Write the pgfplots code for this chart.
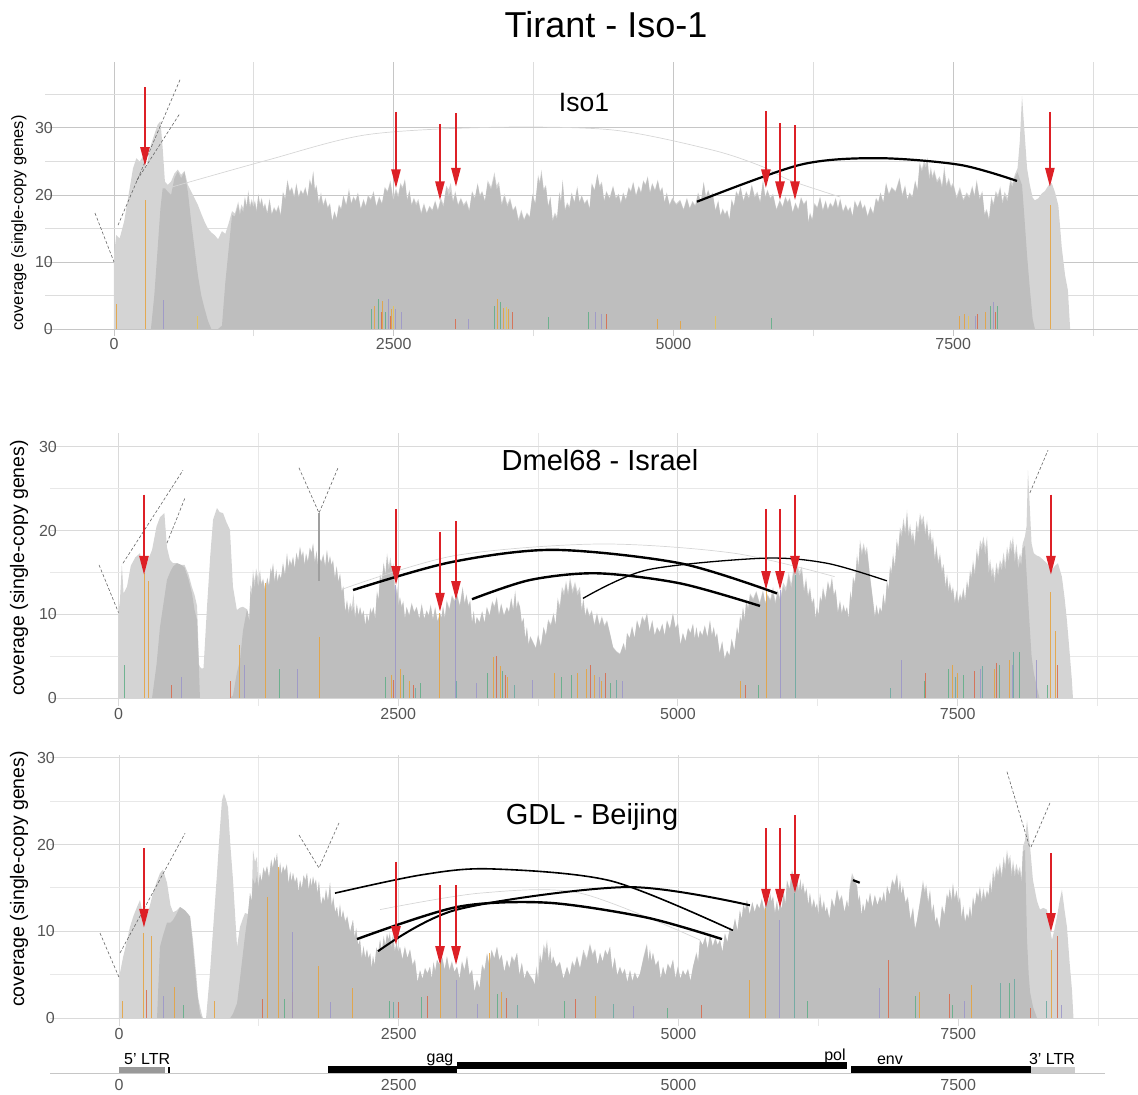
\documentclass[border=0pt]{standalone}
\usepackage{pgfplots}
\pgfplotsset{compat=1.18}
\usepackage{pgfplotstable}
\usepackage{fontspec}
\setmainfont{Liberation Sans}
\usetikzlibrary{arrows.meta}

\definecolor{ltg}{HTML}{D4D4D4}
\definecolor{dkg}{HTML}{BEBEBE}
\definecolor{arr}{HTML}{DD2026}
\definecolor{labc}{HTML}{555555}
\definecolor{gmaj}{HTML}{C6C6C6}
\definecolor{gmin}{HTML}{DDDDDD}
\definecolor{gmajB}{HTML}{DADADA}
\definecolor{gminB}{HTML}{E8E8E8}
\definecolor{snpO}{HTML}{E6A23C}
\definecolor{snpG}{HTML}{5FAE86}
\definecolor{snpP}{HTML}{9B95C9}
\definecolor{snpR}{HTML}{D9694A}
\definecolor{snpT}{HTML}{6AA9A0}
\definecolor{snpY}{HTML}{E8C454}
\definecolor{faint}{HTML}{D6D6D6}
\definecolor{splitc}{HTML}{666666}

\pgfplotstableread{
x lt dk
-1 0 0
0 11 0
20 14 0
50 13.5 0
90 16 0
130 20 0
170 24 0
200 25.5 0
230 25 0
260 25.8 0
285 24 0
300 25 0
330 27.5 0
360 29 5
390 30.5 12
415 31 18
435 27 21
455 22 21
480 21.5 20.5
510 22 20
540 23.2 22.5
570 23.8 23.5
600 23 22.5
630 23.6 23.4
660 21.5 20.5
690 20.5 16
720 19.5 12
750 18.5 8
780 17.2 5
810 16 3
840 15 1.2
870 14.4 0
900 14 0
930 13.4 0
965 14.6 0.5
995 14.2 7
1025 15.8 12
1055 17.6 17
1080 17.2 16.8
1110 19 18.5
1125 17.6 17
1140 18.6 18
1155 18.0 17.4
1170 19.8 19.5
1185 18.4 18.1
1200 20.7 20.3
1215 18.4 18.0
1230 19.4 19
1245 18.6 18.2
1260 19.2 18.8
1275 17.8 17.4
1290 20.2 20
1305 18.6 18.4
1320 19.6 19.4
1335 18.2 17.9
1350 18.8 18.5
1370 17.4 17.1
1390 19.5 19.2
1410 17.2 17
1430 18.2 18
1450 17.6 17.4
1470 18.5 18.2
1490 17.1 16.8
1510 20.5 20.3
1530 19.5 19.3
1550 22.3 22
1570 20.6 20.4
1590 21.2 21
1610 19.8 19.6
1630 21.8 21.5
1650 19.8 19.6
1670 20.8 20.6
1690 20.2 20
1710 21.2 21
1730 19.8 19.6
1750 22.4 22.2
1765 21.4 21.2
1780 23.6 23.4
1795 20.9 20.6
1810 21.5 21.2
1830 19 18.6
1850 20.4 20
1870 18.6 18.3
1890 19.6 19.3
1910 18.2 18
1930 18.8 18.6
1950 16.2 16
1970 17.6 17.4
1990 16.6 16.4
2010 18.6 18.4
2030 18 17.8
2050 20 19.8
2075 18.6 18.4
2100 21 20.5
2120 18.8 18.6
2140 19.8 19.6
2160 19.2 19
2180 20.4 20.2
2205 18 17.8
2230 19.4 19.2
2250 18.4 18.2
2270 20 19.8
2295 19.4 19.2
2320 20.6 20.3
2345 18.4 18.2
2370 19.8 19.6
2395 18.8 18.6
2420 21.2 21
2445 20.6 20.4
2470 22.2 21.8
2495 19.6 19.2
2520 21 20.6
2540 20 19.6
2560 21.8 21.5
2580 21.2 20.9
2600 22.4 22.2
2620 19.4 19.1
2640 20.8 20.5
2660 18.6 18.4
2680 19.6 19.4
2700 18.8 18.4
2720 19.4 19
2745 17.4 17.1
2770 18.8 18.5
2795 17.4 17.2
2820 18.4 18.2
2845 17.8 17.6
2870 19.2 19
2895 17.8 17.6
2920 19.6 19.2
2945 18.6 18.2
2970 21.4 21.2
2990 20.8 19.9
3010 21.8 20.5
3030 19.2 18.9
3050 20.6 20.3
3075 18.6 18.4
3100 19.6 19.4
3125 18.6 18.3
3150 19.2 18.9
3175 17.8 17.5
3200 20.6 20.4
3225 19.6 19.4
3250 21.8 21.6
3270 20 19.8
3290 20.6 20.4
3315 19.2 19
3340 22.2 21.8
3370 21.2 20.8
3400 23.4 22.8
3420 21.4 20.8
3440 22 21.4
3465 18.8 18.4
3490 20.2 19.8
3515 18.6 18.2
3540 19.6 19.2
3565 17.8 17.6
3590 18.4 18.2
3615 16.4 16
3640 17.8 17.4
3665 16.4 16.2
3690 17.4 17.2
3715 16.8 16.6
3740 20.2 20
3765 18.8 18.6
3790 23 22.6
3805 22 21.6
3820 23.8 23.2
3840 20.9 20.6
3860 21.5 21.2
3880 18.4 18.2
3900 19.8 19.6
3920 16.4 16
3940 17.4 17
3960 16.8 16.4
3980 20.5 20.2
3995 19.1 18.8
4010 22.3 22
4030 17.9 17.6
4050 18.9 18.6
4070 18.3 18
4090 20.4 20.2
4115 19 18.8
4140 21.3 21
4160 19 18.8
4180 20 19.8
4205 18.8 18.6
4230 19.4 19.2
4250 18 17.8
4270 21.8 21.6
4295 20.8 20.6
4320 23.2 23
4340 21.4 21.1
4360 22 21.7
4380 19.2 19
4400 20.6 20.4
4430 19.6 19.4
4460 21.4 21.2
4485 19.6 19.4
4510 20.2 20
4530 18.8 18.6
4550 20.4 20.2
4575 19.4 19.2
4600 21.2 21
4620 20.6 20.4
4640 22 21.8
4665 20 19.8
4690 21.4 21.2
4710 20.4 20.2
4730 22.2 22
4750 21.6 21.4
4770 22.8 22.6
4790 20.4 20.2
4810 21.8 21.6
4835 20.8 20.6
4860 22.3 22.1
4880 20.6 20.4
4900 21.2 21
4920 19 18.8
4940 20.4 20.2
4965 18.6 18.4
4990 19.6 19.4
5025 18.7 18.5
5060 19.3 19.1
5090 17.9 17.7
5120 19.6 19.4
5145 18.1 17.9
5170 19.1 18.9
5195 18.5 18.3
5220 20.4 20.2
5245 19 18.8
5270 22 21.8
5290 19.8 19.6
5310 20.8 20.6
5330 19.8 19.5
5350 20.4 20.1
5375 17.8 17.6
5400 19.2 19
5420 17 16.8
5440 18 17.8
5460 17.2 17
5480 17.8 17.6
5500 16.4 16.2
5520 19.4 19.2
5540 18.4 18.2
5560 20.6 20.4
5580 20 19.8
5600 21.3 21.1
5625 19.2 19
5650 20.6 20.4
5675 19.6 19.4
5700 21.6 21.4
5725 19.9 19.6
5750 20.5 20.2
5775 19.1 18.8
5800 22.3 22
5820 19.8 19.6
5840 20.8 20.6
5865 19.6 19.4
5890 20.2 20
5920 17.9 17.7
5950 19.3 19.1
5975 18.3 18.1
6000 19.8 19.6
6020 19 18.8
6040 19.6 19.4
6065 17.5 17.3
6090 18.9 18.7
6115 17.9 17.7
6140 19.7 19.5
6165 18.7 18.5
6190 19.3 19.1
6205 16 15.8
6220 17.4 17.2
6240 16.4 16.2
6260 18.8 18.6
6285 18.2 18
6310 19.8 19.6
6335 17.8 17.6
6360 19.2 19
6380 17.9 17.7
6400 18.9 18.7
6425 18.3 18.1
6450 19.6 19.4
6470 18.1 17.9
6490 19.5 19.3
6515 17.6 17.4
6540 18.6 18.4
6560 17.7 17.5
6580 18.3 18.1
6600 16.9 16.7
6620 19.2 19
6645 18.2 18
6670 19.3 19.1
6690 18 17.8
6710 18.6 18.4
6735 16.9 16.7
6760 18.3 18.1
6785 17.3 17.1
6810 19.6 19.4
6830 19 18.8
6850 20.4 20.2
6875 19 18.8
6900 21.9 21.6
6925 20.2 20
6950 21.2 21
6985 20.6 20.4
7020 22.6 22.3
7045 20.1 19.8
7070 21.5 21.2
7090 19.4 19.2
7110 20.4 20.2
7135 19.8 19.6
7160 22.2 22
7180 20.8 20.6
7200 24.9 24.5
7220 23.9 23.5
7240 25.2 24.6
7255 24.6 24
7270 25.6 25
7285 22.8 22.2
7300 24.2 23.6
7315 22.8 22.4
7330 23.8 23.4
7355 22.2 21.8
7380 22.8 22.4
7400 21.4 21
7420 24.3 23.6
7440 21.6 21.2
7460 22.6 22.2
7480 21.3 21
7500 21.9 21.6
7530 19.8 19.4
7560 21.2 20.8
7590 19.4 19.1
7620 20.4 20.1
7645 19.8 19.5
7670 21.4 21.1
7690 20 19.7
7710 22.3 21.9
7735 19.6 19.3
7760 20.6 20.3
7780 17.3 17
7800 17.9 17.6
7820 16.5 16.2
7840 19.8 19.4
7860 18.8 18.4
7880 20.6 20.2
7900 20 19.6
7920 21.3 20.9
7940 19.1 18.6
7960 20.5 20
7985 19.5 19
8010 22.3 21.8
8030 21.7 21.2
8050 23 22.6
8075 24 23.4
8095 28 22.4
8115 34.8 21.5
8135 30 17
8160 24 11
8185 21.5 6
8210 19.6 1.5
8230 19.2 0
8260 19.5 0
8290 20.2 0
8320 20.6 0
8350 21.4 0
8380 21.8 0
8410 20.4 0
8440 18.4 0
8470 12.2 0
8500 8 0
8525 5.8 0
8545 0 0
}\tA

\pgfplotstableread{
x lt dk
-1 0 0
0 10.2 0
13 11.7 0
30 16 0
45 12.5 0
76 13.3 0
110 15.8 0
150 16.8 0
192 17.3 0
228 14.9 0
264 16.5 0
300 17.7 0
340 20.5 4
371 21.6 8.5
410 22.1 12
433 18 14.1
460 16.5 15
487 16.1 15.7
523 16.1 16.1
560 15.9 15.9
590 15.9 15.6
625 14.8 14.2
657 13.2 12.5
680 12.3 10.5
702 11 9.3
720 4 3
728 3.7 0
746 3.5 0
760 3.6 0
791 10.9 0
820 17 0
845 21.3 0
880 22.7 0
905 22.2 0
934 22.1 0
965 21 0
996 20.1 0
1023 13.3 0.3
1058 10.5 3
1086 10.8 4.5
1112 10.9 8
1148 10.6 10.6
1157 10.2 10.2
1168 9.2 9.2
1180 13.5 12.8
1191 12.9 12.2
1202 15.3 14.5
1216 13.9 13.1
1230 15.5 14.8
1248 14.3 13.3
1265 15.3 14.3
1278 13.7 13.5
1292 14.3 14.1
1311 12.9 12.7
1330 14.4 14.3
1345 13.4 13.3
1360 15.6 15.4
1370 15 14.8
1381 16.1 16
1395 14 13.8
1410 15.4 15.2
1422 13.9 13.8
1435 14.9 14.8
1452 14.3 14.2
1470 16.2 16
1488 14.8 14.6
1506 17.3 17.2
1518 15.6 15.4
1530 16.6 16.4
1545 16 15.8
1560 16.9 16.8
1575 15.5 15.4
1590 17.4 17.3
1606 16.4 16.3
1622 18.1 18
1636 17 16.8
1650 17.6 17.4
1663 15.9 15.8
1676 17.3 17.2
1693 16.3 16.2
1710 18 17.9
1725 17.4 17.3
1739 18.5 18.4
1755 16.2 16.1
1770 17.6 17.5
1782 15.9 15.8
1793 16.9 16.8
1812 16.3 16.2
1830 17.2 17
1847 15.8 15.6
1863 17.7 17.6
1877 16 15.9
1890 17 16.9
1904 15.9 15.8
1917 16.5 16.4
1934 14.4 14.2
1950 15.8 15.6
1965 13.9 13.8
1980 14.9 14.8
1995 12.8 12.6
2010 13.4 13.2
2026 10.3 10.2
2042 11.7 11.6
2056 10.4 10
2070 11.4 11
2085 10.8 10.3
2100 12.5 10.9
2115 9.9 9.5
2130 11.3 11.1
2145 9.9 9.8
2159 10.9 10.8
2175 9.9 9.8
2190 10.5 10.4
2205 8.7 8.6
2220 10.1 10
2235 9.1 9
2250 10.8 10.6
2264 10.2 10
2278 10.9 10.8
2294 9.5 9.4
2310 12.8 12.6
2324 11.8 11.6
2337 14.8 14.5
2354 14.2 13.9
2370 16.2 16
2385 14.8 14.6
2400 17.3 16.9
2415 15.8 15.2
2430 16.8 16.2
2444 15.5 15
2457 16.1 15.6
2474 12.1 11.8
2490 13.5 13.2
2503 11.1 11
2515 12.1 12
2530 11 10.8
2545 11.6 11.4
2560 9.5 9.4
2575 10.9 10.8
2598 9.9 9.8
2620 11.4 11.2
2643 10.3 10.2
2665 10.9 10.8
2688 9.5 9.4
2710 11.3 11.1
2732 9.5 9.4
2754 10.5 10.4
2772 9.9 9.8
2790 11.2 11
2810 9.5 9.3
2830 10.9 10.7
2852 9.2 9.1
2873 10.2 10.1
2887 9.6 9.5
2900 11 10.9
2917 9.6 9.5
2933 11.7 11.5
2957 10.7 10.5
2980 12.3 12.1
3003 11.7 11.5
3025 12.5 12.3
3050 11.1 10.9
3076 13.3 13.1
3093 11.4 11.2
3110 12.4 12.2
3127 11.1 10.9
3143 11.7 11.5
3159 9 8.9
3175 10.4 10.3
3188 8.7 8.6
3202 9.7 9.6
3226 9.1 9
3250 10.4 10.3
3271 9 8.9
3292 10.9 10.8
3316 9.9 9.8
3340 11.6 11.4
3360 11 10.8
3381 12.1 11.9
3400 9.9 9.8
3420 11.3 11.2
3445 9.9 9.8
3471 10.9 10.8
3490 10.3 10.2
3510 12 11.8
3527 10.6 10.4
3545 12.9 12.6
3558 10.7 10.5
3570 11.7 11.5
3588 10.9 10.8
3604 9 8.9
3620 9.6 9.5
3635 7.1 7
3650 8.5 8.4
3665 6.4 6.3
3680 7.4 7.3
3709 6.6 6.5
3730 6 5.9
3750 7.6 7.5
3775 6.2 6.1
3799 8.5 8.4
3820 7.5 7.4
3840 9.4 9.2
3864 8.8 8.6
3888 10.2 10
3906 8.8 8.6
3925 12 11.6
3944 11 10.6
3963 13.3 12.8
3982 12.7 12.2
4000 14 13.6
4018 12.6 12.2
4035 14.5 14
4058 12.9 12.4
4080 13.9 13.4
4102 12.7 12.2
4124 13.3 12.8
4140 10.6 10.3
4155 12 11.7
4171 9.9 9.7
4187 10.9 10.7
4208 9.9 9.7
4230 10.5 10.3
4253 8.8 8.6
4276 10.2 10
4298 8.8 8.6
4320 9.8 9.6
4343 8.7 8.5
4366 9.3 9.1
4395 7.6 7.5
4420 6.1 6
4450 5.6 5.5
4482 5.3 5.2
4515 6.6 6.5
4530 5.6 5.5
4545 7.8 7.7
4568 7.2 7.1
4590 8.6 8.5
4612 7.2 7.1
4634 9.3 9.2
4657 8.3 8.2
4680 9.8 9.6
4702 9.2 9
4723 10.2 10
4746 7.9 7.8
4770 9.3 9.2
4792 7.5 7.4
4813 8.5 8.4
4837 7.9 7.8
4860 8.9 8.8
4881 7.5 7.4
4902 9.3 9.2
4928 8.3 8.2
4955 10.2 10
4978 8.4 8.3
5000 9 8.9
5022 6.4 6.3
5044 7.8 7.7
5067 6.8 6.7
5090 8.4 8.3
5112 7.8 7.7
5134 8.9 8.8
5150 7.1 7
5165 8.5 8.4
5181 7.1 7
5197 8.1 8
5218 7.5 7.4
5240 8.7 8.6
5263 7.3 7.2
5286 9.3 9.2
5303 7.5 7.4
5320 8.5 8.4
5335 7.2 7.1
5349 7.8 7.7
5372 5.4 5.3
5395 6.8 6.7
5417 4.7 4.6
5439 5.7 5.6
5460 5.1 5
5480 7.1 7
5504 5.7 5.6
5528 8.5 8.4
5541 7.5 7.4
5555 9.8 9.6
5568 9.2 9
5581 10.9 10.7
5596 9.5 9.3
5610 11.8 11.5
5627 10.8 10.5
5644 12.5 12.3
5672 11.9 11.7
5700 12.8 12.6
5730 11.4 11.2
5760 12.9 12.7
5780 11.4 11.2
5800 12.4 12.2
5825 11.8 11.6
5850 13.3 12.6
5870 11.5 11.2
5890 12.9 12.6
5915 11.9 11.6
5940 13.8 13.3
5965 13.2 12.7
5990 15 14.5
6012 13.6 13.1
6035 15.8 15.2
6049 14.8 14.2
6063 16.1 15.6
6085 15.1 14.6
6108 15.7 15.2
6126 13 12.6
6145 14.4 14
6162 12.3 12
6180 13.3 13
6197 11.4 11.2
6215 12 11.8
6228 9.5 9.4
6242 10.9 10.8
6256 9.9 9.8
6270 12.2 12
6283 11.6 11.4
6296 13.3 13
6318 11.9 11.6
6340 14 13.8
6358 13 12.8
6376 14.5 14.2
6393 12.4 12.2
6410 13 12.8
6429 10.3 10.1
6448 11.7 11.5
6464 10.2 10
6480 11.2 11
6495 10.3 10.2
6510 10.9 10.8
6525 9.5 9.4
6540 12.8 12.5
6552 11.8 11.5
6564 14.5 14.2
6582 13.9 13.6
6600 17.2 16.8
6613 15.8 15.4
6627 18.9 18.4
6643 17.5 17
6660 18.5 18
6675 17.5 17
6689 18.1 17.6
6715 14.8 14.5
6743 11.7 11.5
6760 9.8 9.6
6775 11.2 11
6790 9.9 9.8
6805 10.9 10.8
6820 10.3 10.2
6835 12.5 12.3
6851 11.1 10.9
6868 14.1 13.8
6882 13.1 12.8
6895 15.8 15.4
6908 15.2 14.8
6922 17.3 16.9
6938 15.9 15.5
6955 19 18.5
6970 18 17.5
6984 20.4 19.8
7000 19.8 19.2
7015 21.5 20.9
7031 20.1 19.5
7047 22.5 22
7061 19.8 19.2
7075 20.8 20.2
7088 19.3 18.8
7101 19.9 19.4
7116 18.5 18
7130 21.2 20.6
7146 20.2 19.6
7163 22.1 21.5
7179 21.2 20.6
7195 21.8 21.2
7210 19.9 19.4
7226 21.3 20.8
7240 19.2 18.7
7255 20.2 19.7
7268 18.7 18.2
7280 19.3 18.8
7295 16.8 16.4
7310 18.2 17.8
7326 16.3 15.9
7342 17.3 16.9
7358 15.4 15
7375 16 15.6
7390 13.5 13.1
7405 14.9 14.5
7418 13 12.6
7430 14 13.6
7444 12.7 12.4
7458 13.3 13
7474 11.5 11.2
7490 12.9 12.6
7505 11.5 11.2
7521 12.5 12.2
7535 11.9 11.6
7550 13.2 12.9
7566 11.8 11.5
7583 14.1 13.8
7596 13.1 12.8
7610 15.3 14.9
7623 14.7 14.3
7637 16.5 16
7653 15.1 14.6
7670 17.8 17.3
7685 16.8 16.3
7700 18.9 18.2
7715 18.3 17.6
7730 19.3 18.6
7746 17.9 17
7762 19.3 18.4
7776 15.6 14.8
7790 16.6 15.8
7803 15.1 14.4
7816 15.7 15
7830 14.3 13.6
7845 16.2 15.6
7861 15.2 14.6
7878 16.5 15.8
7894 15.9 15.2
7910 17.4 16.6
7925 16 15.2
7941 18.1 17.3
7955 17.1 16.3
7970 18.9 18
7982 18.3 17.4
7994 19.3 18.4
8010 17 16.1
8025 18.4 17.5
8041 16.3 15.4
8057 17.3 16.4
8068 16.7 15.8
8080 18.4 17.8
8101 19.3 18.2
8115 20.5 15
8128 27.2 12
8140 24 9.3
8160 18.5 5
8180 17.3 3
8208 17 1.3
8230 16.9 0
8265 16.5 0
8297 16.1 0
8320 15.6 0
8342 15.3 0
8370 15.8 0
8396 16.1 0
8431 14.5 0
8455 12 0
8476 9.3 0
8500 5.5 0
8520 2.2 0
8530 0 0
}\tB

\pgfplotstableread{
x lt dk
-1 0 0
0 4.7 0
9 5.2 0
36 7 0
70 8.8 0
98 10.5 0
130 11.8 0
161 12.8 0
188 13.6 0
223 11.3 0
259 12.1 0
304 14.4 0
340 15.8 0
366 16.7 8.2
393 17.1 9.5
429 15.6 11
460 13 11
483 12.2 11.3
515 12.4 12
545 12.8 12.8
590 12.4 12.4
635 11.7 11.7
661 9 8.2
690 5 4
706 2.5 2.1
724 1.3 0.5
742 0.3 0
751 0 0
778 0 0
813 5.2 0
845 11 0
876 16.7 0
900 21.5 0
920 25.1 0
938 25.9 0
956 25.2 0
974 24.3 0
995 20 0
1019 15.9 0.5
1055 8.2 1.7
1081 10.5 4.5
1108 11.5 7.5
1126 12.1 9.5
1153 12 12
1171 14.4 14.4
1185 13.4 13.4
1198 19.4 16
1215 18 15.4
1233 18.6 16.4
1246 15.3 15
1260 16.7 16.7
1275 15.7 15.7
1290 17.4 17.2
1306 16.8 16.6
1323 17.5 17.5
1341 16.1 16.1
1360 18.3 18.2
1375 17.3 17.2
1390 18.6 18.5
1401 18 17.9
1412 19 19
1426 16.6 16.4
1440 18 17.8
1453 16.5 16.5
1466 17.5 17.5
1483 16.9 16.9
1500 17.8 17.6
1515 15.5 15.4
1530 16.9 16.8
1542 15.7 15.7
1555 16.7 16.7
1572 15.7 15.6
1590 16.3 16.2
1604 14.5 14.5
1618 15.9 15.9
1634 14.9 14.9
1650 16.5 16.4
1665 15.9 15.8
1680 16.7 16.7
1695 14.8 14.7
1710 16.2 16.1
1722 15.2 15.1
1734 16.3 16.3
1747 15.4 15.3
1760 16 15.9
1773 14.4 14.3
1787 15.8 15.7
1805 13 13
1823 14 14
1836 13.4 13.4
1850 14.9 14.8
1868 13.5 13.4
1886 15.6 15.6
1900 13 12.8
1915 14 13.8
1931 12.2 12.2
1948 12.8 12.8
1961 11.4 11.4
1975 13.2 13
1988 11.4 11.4
2002 12.4 12.4
2021 11.2 11
2040 11.8 11.6
2065 9.9 9.9
2091 11.3 11.3
2105 9.4 9.2
2120 10.4 10.2
2137 8.4 8.4
2154 9 9
2170 6.9 6.8
2185 8.3 8.2
2200 6.9 6.9
2216 7.9 7.9
2230 6.9 6.8
2245 7.5 7.4
2258 5.7 5.7
2270 7.1 7.1
2285 6.1 6.1
2300 8.2 8
2316 7.6 7.4
2333 9 9
2349 7.6 7.6
2365 9.5 9.2
2380 8.5 8.2
2395 9.7 9.7
2408 9.1 9
2420 9.9 9.6
2435 8.4 8
2449 9.8 9.4
2465 7.8 7.6
2480 8.8 8.6
2496 7.6 7.6
2511 8.2 8.2
2533 6.8 6.7
2555 8.3 8.1
2578 6.9 6.9
2601 7.9 7.9
2623 6.2 6
2645 6.8 6.6
2668 4.1 4.1
2690 5.5 5.5
2712 4.5 4.5
2735 5.8 5.7
2757 5.2 5.1
2779 5.9 5.9
2795 4.5 4.5
2810 6.5 6.3
2826 5.5 5.3
2842 6.7 6.7
2866 6.1 6.1
2890 7 6.9
2910 5.6 5.5
2931 7.1 7.1
2953 5.6 5.4
2975 6.6 6.4
2998 5.3 5.3
3021 5.9 5.9
3043 4.5 4.5
3065 6.6 6.4
3088 5.6 5.4
3110 7.1 7.1
3132 5 4.9
3155 5.6 5.5
3177 3 3
3199 4.4 4.4
3222 3.4 3.4
3245 6.2 6
3267 5.6 5.4
3289 7.5 7.4
3310 6.1 6
3330 7.9 7.8
3354 6.9 6.8
3378 8.2 8.2
3399 6.7 6.6
3420 7.3 7.2
3443 5.3 5.3
3467 6.7 6.7
3488 5.7 5.7
3510 7.2 7
3533 6.6 6.4
3557 7.5 7.5
3578 5 4.9
3600 6.4 6.3
3623 4.5 4.5
3646 5.5 5.5
3675 4.9 4.8
3700 4.4 4.4
3715 3.8 3.8
3730 6 5.6
3746 4.6 4.2
3762 7.5 7.2
3778 6.5 6.2
3795 8.5 8
3810 7.9 7.4
3825 9 8.4
3840 6.8 6.4
3855 8.2 7.8
3867 6.1 6.1
3879 7.1 7.1
3910 5.9 5.8
3940 6.5 6.4
3972 4.5 4.5
4004 5.9 5.9
4027 4.9 4.9
4050 6.6 6.4
4071 6 5.8
4093 7.1 7.1
4120 5.7 5.7
4150 7.9 7.6
4180 6.9 6.6
4209 8.6 8.4
4232 7.4 7.2
4255 8 7.8
4277 6.1 6.1
4299 7.5 7.5
4322 6.5 6.5
4345 7.9 7.8
4366 7.3 7.2
4388 8.2 8.2
4409 5.6 5.5
4430 7 6.9
4453 4.9 4.9
4477 5.9 5.9
4498 5.1 5
4520 5.7 5.6
4543 4.1 4.1
4567 5.5 5.5
4588 4.3 4.2
4610 5.3 5.2
4633 4.5 4.5
4656 5.1 5.1
4690 7.2 7
4718 8.6 8.4
4731 6.6 6.4
4745 8 7.8
4758 6.5 6.5
4772 7.5 7.5
4796 6.1 6
4820 6.7 6.6
4841 4.5 4.5
4862 5.9 5.9
4883 4.9 4.9
4905 6.3 6.2
4928 5.7 5.6
4951 6.7 6.7
4973 4.6 4.5
4995 6 5.9
5017 4.5 4.5
5040 5.5 5.5
5062 4.9 4.9
5085 5.7 5.6
5107 4.3 4.2
5130 5.9 5.9
5160 7.6 7.4
5176 6.6 6.4
5192 9 9
5216 8.4 8.4
5240 9.4 9.3
5261 8 7.9
5282 9.7 9.7
5306 8.3 8.2
5330 9.3 9.2
5350 8.4 8.4
5371 9 9
5393 7.6 7.6
5415 9.8 9.7
5437 8.8 8.7
5460 10.5 10.5
5482 9.9 9.9
5505 11.5 11.4
5527 10.1 10
5549 12.4 12.4
5565 11.4 11.4
5580 13.1 13
5596 12.5 12.4
5612 13.6 13.6
5636 12 11.9
5660 13.4 13.3
5681 12.2 12.2
5702 13.2 13.2
5723 12.6 12.6
5745 13.8 13.7
5768 12.4 12.3
5791 14.8 14.6
5805 13.4 13.2
5820 14.4 14.2
5832 13.4 13.4
5845 14 14
5862 12.2 12
5880 13.6 13.4
5893 12.2 12.2
5907 13.2 13.2
5923 12.6 12.6
5940 14.6 14.4
5955 13.2 13
5970 15.9 15.8
5992 14.9 14.8
6014 17.1 16.8
6036 16.1 16
6059 16.7 16.6
6075 14.7 14.5
6090 16.1 15.9
6101 14.6 14.6
6113 15.6 15.6
6129 14.4 14.2
6145 15 14.8
6160 13 13
6175 14.4 14.4
6192 12.8 12.6
6210 13.8 13.6
6224 12.6 12.6
6238 13.2 13.2
6251 11.8 11.8
6265 14.4 14.3
6282 12.6 12.4
6300 13.6 13.4
6313 12.2 12.2
6327 12.8 12.8
6348 11.4 11.4
6370 13.8 13.7
6393 12.8 12.7
6417 14.8 14.8
6438 13.6 13.4
6460 14.2 14
6483 12.2 12.2
6506 13.6 13.6
6518 12.6 12.6
6530 15.2 14.8
6551 16.7 16.2
6575 16 15.8
6596 15.2 15.2
6608 13.6 13.4
6620 14.2 14
6635 11.8 11.8
6649 13.2 13.2
6665 12.2 12.2
6680 13.8 13.7
6696 13.2 13.1
6712 14.4 14.4
6733 12.8 12.7
6755 14.2 14.1
6778 13 13
6801 14 14
6818 13.4 13.4
6835 14.6 14.5
6850 13.2 13.1
6864 15.2 15.2
6887 14.2 14.2
6910 16 15.8
6931 15.4 15.2
6953 16.7 16.5
6967 14.6 14.4
6980 16 15.8
6993 14.2 14.2
7006 15.2 15.2
7028 13.4 13.2
7050 14 13.8
7073 11.4 11.2
7096 12.8 12.6
7114 10.3 10.2
7132 11.3 11.2
7160 13.6 13.4
7185 15.9 15.4
7200 14.8 14.4
7215 15.4 15
7231 13.4 13.2
7248 14.8 14.6
7264 12.2 12
7280 13.2 13
7295 11.1 11
7310 11.7 11.6
7332 10.3 10.2
7355 13 12.8
7377 12 11.8
7399 14.4 14.2
7412 13.8 13.6
7425 15 14.8
7439 13.6 13.4
7453 15.6 15.4
7469 13.8 13.6
7485 14.8 14.6
7500 13.4 13.2
7516 14 13.8
7530 11.6 11.4
7545 13 12.8
7561 11.1 11
7578 12.1 12
7591 11.5 11.4
7605 13 12.8
7618 11.6 11.4
7632 14 13.8
7648 13 12.8
7665 14.6 14.4
7680 14 13.8
7694 15.2 15
7710 13.6 13.2
7725 15 14.6
7741 13.8 13.6
7757 14.8 14.6
7771 14.2 14
7785 16 15.6
7798 14.6 14.2
7811 17.1 16.6
7825 16.1 15.6
7840 17.5 17
7857 16.9 16.4
7873 17.9 17.4
7889 16.5 16
7905 18.6 18
7920 17.6 17
7936 19.4 18.8
7950 18.2 17.6
7965 18.8 18.2
7977 16.8 16.2
7990 18.2 17.6
8005 16.8 16.2
8020 17.8 17.2
8036 16.9 16.4
8052 17.5 17
8065 16.1 15.6
8079 19.8 19.2
8097 20.5 19.4
8115 22.8 9
8130 21 5
8142 19.8 3
8168 15.9 1.3
8204 13.5 0
8231 12.5 0
8260 12.7 0
8293 12.5 0
8315 10.8 0
8338 9 0
8360 10.2 0
8383 11.7 0
8405 13.4 0
8427 14.8 0
8450 12.5 0
8472 10.5 0
8495 6.5 0
8517 3.2 0
8530 0 0
}\tC

\newcommand{\arrw}[3]{\addplot[arr, line width=2.4pt, -{Triangle[width=9pt,length=19pt]}] coordinates {(#1,#2) (#1,#3)};}

\pgfplotsset{
  cov/.style={
    scale only axis,
    axis line style={draw=none},
    major tick length=0pt, minor tick length=0pt,
    tick style={draw=none},
    xtick={0,2500,5000,7500},
    minor xtick={1250,3750,6250,8750},
    ytick={0,10,20,30},
    minor ytick={5,15,25,35},
    xmajorgrids, xminorgrids, ymajorgrids, yminorgrids,
    tick label style={font=\fontsize{16}{18}\selectfont, text=labc},
    /pgf/number format/1000 sep={},
    /pgf/number format/assume math mode=true,
    xticklabel style={anchor=north, inner sep=0pt, yshift=-2pt},
    clip=true,
  },
  snp/.style={ycomb, line width=1pt, opacity=0.85},
  split/.style={densely dashed, splitc, line width=0.6pt},
}

\begin{document}
\begin{tikzpicture}
\path[use as bounding box] (0pt,0pt) rectangle (1138pt,-1095pt);

\node[font=\fontsize{36}{40}\selectfont] at (606pt,-25pt) {Tirant - Iso-1};

% ---------------- Panel 1: Iso1
\begin{axis}[cov,
  at={(45pt,-62pt)}, anchor=north west,
  width=1093pt, height=274pt,
  xmin=-616.7, xmax=9151.5, ymin=-1.045, ymax=39.85,
  major grid style={draw=gmaj, line width=1pt},
  minor grid style={draw=gmin, line width=1pt},
  yticklabel style={anchor=east, inner sep=0pt, xshift=8pt},
]
\addplot[fill=ltg, draw=none] table[x=x,y=lt] {\tA} \closedcycle;
\addplot[fill=dkg, draw=none] table[x=x,y=dk] {\tA} \closedcycle;
\addplot[snp, snpO] coordinates {(25,3.7) (280,19.2) (2330,3.5) (2400,4.2) (2480,3) (3430,4.5) (3480,3.2) (3530,3) (4860,1.5) (5060,1.2) (7560,2) (7600,2.2) (7790,2.5) (8370,18.5)};
\addplot[snp, snpG] coordinates {(2300,3) (2360,4.5) (2430,2.5) (3400,3.5) (3450,4) (3880,1.8) (4240,2.5) (5880,1.6) (7830,3.5) (7900,3.5)};
\addplot[snp, snpP] coordinates {(440,4.3) (2450,4.5) (2520,3) (2570,2.5) (3170,1.5) (4300,2.5) (4360,2.3) (7700,2) (7860,4)};
\addplot[snp, snpR] coordinates {(2390,2.5) (2470,2) (3050,1.5) (3560,2.5) (4400,2.2) (7720,2.3) (7880,2.5)};
\addplot[snp, snpY] coordinates {(750,2) (2500,3.5) (3510,3.3) (5380,2) (7640,2)};
\addplot[faint, line width=0.7pt, smooth] coordinates {(477,21.0) (1370,25.2) (2260,29) (3380,30.1) (4460,29.7) (5350,26.7) (5800,24.2) (6040,22.2) (6490,19.7)};
\addplot[black, line width=2.2pt, smooth] coordinates {(5210,19) (6130,24.5) (6819,25.5) (7560,24.5) (8070,22.1)};
\addplot[split] coordinates {(-170,17.3) (0,10)};
\addplot[split] coordinates {(36,15.5) (590,37.2)};
\addplot[split] coordinates {(205,22.2) (590,32.2)};
\arrw{277}{36.1}{24.3}
\arrw{2520}{32.4}{21}
\arrw{2913}{30.6}{19.2}
\arrw{3056}{32.2}{21.2}
\arrw{5826}{32.5}{21}
\arrw{5952}{30.7}{19.2}
\arrw{6086}{30.4}{19.2}
\arrw{8364}{32.4}{21.2}
\node[font=\fontsize{26.5}{30}\selectfont, anchor=base] at (axis cs:4200,32.4) {Iso1};
\end{axis}

% ---------------- Panel 2: Dmel68 - Israel
\begin{axis}[cov,
  at={(50pt,-433pt)}, anchor=north west,
  width=1088pt, height=273pt,
  xmin=-612.2, xmax=9111.3, ymin=-0.956, ymax=31.66,
  major grid style={draw=gmajB, line width=1pt},
  minor grid style={draw=gminB, line width=1pt},
  yticklabel style={anchor=east, inner sep=0pt, xshift=7pt},
]
\addplot[fill=ltg, draw=none] table[x=x,y=lt] {\tB} \closedcycle;
\addplot[fill=dkg, draw=none] table[x=x,y=dk] {\tB} \closedcycle;
\addplot[gray!75, line width=1.2pt] coordinates {(1792,14) (1792,22.1)};
\addplot[snp, snpO] coordinates {(228,14.9) (272,14) (1080,6.3) (1310,13.7) (1792,7.3) (2440,2.8) (2520,3.5) (2600,2) (2873,10.2) (3350,4.9) (3410,3.8) (3480,2.5) (3900,3) (4100,3) (4180,3.5) (4250,2.8) (4320,2) (5560,2) (5787,12.9) (7450,4) (7500,3) (7830,3.5) (7960,4.5) (8333,12.7) (8370,8)};
\addplot[snp, snpG] coordinates {(50,4) (1440,3.5) (2390,2.5) (2550,2.8) (2700,1.8) (3300,3) (3430,3.2) (3960,2.5) (4050,2.8) (4400,1.8) (5720,1.5) (7200,2) (7420,3.5) (7550,2.8) (7870,4) (8050,5.5) (8300,1.5)};
\addplot[snp, snpP] coordinates {(560,2.5) (1130,4) (1600,3.5) (2480,13.5) (3016,11.7) (3200,1.8) (3700,2.2) (4300,2.5) (4500,2) (5912,12.9) (7000,4.5) (7700,3.5) (7990,4) (8200,4.5)};
\addplot[snp, snpR] coordinates {(470,1.5) (1000,2) (2460,2.2) (2640,1.6) (3380,5) (3460,2.8) (4220,4) (4350,3) (5600,1.5) (7210,3) (7650,3.2) (7850,4.2) (8390,4)};
\addplot[snp, snpT] coordinates {(2650,1.2) (3020,2) (3540,1.5) (4450,2.2) (6046,14.7) (6900,1.2) (7480,2.5) (7720,3.8) (8000,5.5)};
\addplot[faint, line width=0.7pt, smooth] coordinates {(2000,13) (3000,17) (4300,18.4) (5500,17.3) (6400,14.5)};
\addplot[black, line width=2.4pt, smooth] coordinates {(2096,12.9) (2962,16.2) (3883,17.7) (5018,16.1) (5885,12.5)};
\addplot[black, line width=2.4pt, smooth] coordinates {(3159,11.8) (3678,14.1) (4276,14.9) (5018,13.7) (5733,11.0)};
\addplot[black, line width=1.3pt, smooth] coordinates {(4151,11.9) (4723,15.3) (5760,16.7) (6331,16.1) (6867,14.0)};
\addplot[split] coordinates {(-174,15.9) (0,10.2)};
\addplot[split] coordinates {(40,16.1) (576,27.2)};
\addplot[split] coordinates {(433,18.5) (594,23.9)};
\addplot[split] coordinates {(1613,27.5) (1792,22.1) (1962,27.5)};
\addplot[split] coordinates {(8145,24.5) (8307,29.6)};
\arrw{228}{24.3}{14.7}
\arrw{2480}{22.6}{13.5}
\arrw{2873}{19.8}{10.3}
\arrw{3016}{21.1}{11.7}
\arrw{5787}{22.6}{12.9}
\arrw{5912}{22.6}{12.9}
\arrw{6046}{24.3}{14.7}
\arrw{8333}{24.3}{14.7}
\node[font=\fontsize{29}{33}\selectfont, anchor=base] at (axis cs:4303,27.24) {Dmel68 - Israel};
\end{axis}

% ---------------- Panel 3: GDL - Beijing
\begin{axis}[cov,
  at={(50pt,-755pt)}, anchor=north west,
  width=1088pt, height=271pt,
  xmin=-616.7, xmax=9106.8, ymin=-0.923, ymax=30.33,
  major grid style={draw=gmajB, line width=1pt},
  minor grid style={draw=gminB, line width=1pt},
  yticklabel style={anchor=east, inner sep=0pt, xshift=5pt},
]
\addplot[fill=ltg, draw=none] table[x=x,y=lt] {\tC} \closedcycle;
\addplot[fill=dkg, draw=none] table[x=x,y=dk] {\tC} \closedcycle;
\addplot[snp, snpO] coordinates {(30,2) (223,9.8) (290,9.4) (500,3.6) (850,2) (1323,14) (1421,17.4) (1550,3) (1787,6) (2090,3.5) (2869,6.7) (3315,7.5) (3420,3) (4260,2.5) (5639,4.4) (5782,12.7) (7150,3) (7623,3.8) (8338,7.8)};
\addplot[snp, snpG] coordinates {(580,1.5) (1480,2.2) (2420,2) (2700,2.4) (3380,2.8) (3980,2) (4900,1.2) (6150,2) (7120,2.5) (7450,1.5) (7960,4)};
\addplot[snp, snpP] coordinates {(400,2.5) (1550,9.9) (1890,1.8) (3012,4.4) (3200,1.6) (4600,1.4) (5907,11.3) (6800,3.5) (7560,2) (8420,1.5)};
\addplot[snp, snpR] coordinates {(250,3.2) (1280,2.2) (2500,1.8) (2760,2.5) (3460,2.3) (4080,2.2) (5210,1.5) (6881,6.7) (7420,2.8) (8150,1.2) (8383,9.4)};
\addplot[snp, snpT] coordinates {(2450,1.8) (3560,1.5) (4420,1.6) (6041,14.4) (7880,4) (8000,4.5) (8290,2)};
\addplot[faint, line width=0.7pt, smooth] coordinates {(2333,12.5) (3226,14.4) (4120,14.4) (5192,9)};
\addplot[black, line width=1.6pt, smooth] coordinates {(1930,14.4) (2700,16.5) (3315,17.2) (4400,15.8) (5487,10.1)};
\addplot[black, line width=2.4pt, smooth] coordinates {(2127,9.1) (3020,12.8) (3825,13.3) (4710,11.6) (5389,9.1)};
\addplot[black, line width=2pt, smooth] coordinates {(2315,7.7) (3020,12.5) (4540,15.1) (5639,13)};
\addplot[black, line width=2.2pt] coordinates {(6560,15.9) (6620,15.6)};
\addplot[split] coordinates {(-170,9.8) (0,4.7)};
\addplot[split] coordinates {(9,7.5) (590,21.3)};
\addplot[split] coordinates {(1609,21.1) (1787,17.3) (1966,22.5)};
\addplot[split] coordinates {(7936,28.4) (8141,19.6)};
\addplot[split] coordinates {(8320,24.8) (8150,19.7)};
\arrw{223}{19.6}{10.4}
\arrw{2475}{18}{8.4}
\arrw{2869}{15.3}{6.1}
\arrw{3012}{15.3}{6.1}
\arrw{5782}{21.9}{12.7}
\arrw{5907}{21.9}{12.7}
\arrw{6041}{23.4}{14.4}
\arrw{8329}{19}{9.9}
\node[font=\fontsize{29}{33}\selectfont, anchor=base] at (axis cs:4227,22.26) {GDL - Beijing};
\end{axis}

% ---------------- Gene track
\begin{axis}[
  scale only axis,
  at={(50pt,-1050pt)}, anchor=north west,
  width=1055pt, height=23pt,
  xmin=-616.7, xmax=8811.9, ymin=0, ymax=23,
  axis x line*=bottom, axis y line=none,
  x axis line style={draw=gmaj, line width=1pt, -},
  xtick={0,2500,5000,7500}, ytick=\empty,
  major tick length=0pt, tick style={draw=none},
  tick label style={font=\fontsize{16}{18}\selectfont, text=labc},
  /pgf/number format/1000 sep={},
  /pgf/number format/assume math mode=true,
  xticklabel style={anchor=north, inner sep=0pt, yshift=-6pt},
  clip=false,
]
\addplot[fill=gray!80, draw=none] coordinates {(0,0) (410,0) (410,6.5) (0,6.5)};
\addplot[fill=black, draw=none] coordinates {(438,0) (456,0) (456,6.5) (438,6.5)};
\addplot[fill=black, draw=none] coordinates {(1868,0) (3020,0) (3020,7) (1868,7)};
\addplot[fill=black, draw=none] coordinates {(3020,4) (6510,4) (6510,11) (3020,11)};
\addplot[fill=black, draw=none] coordinates {(6540,0) (8150,0) (8150,7) (6540,7)};
\addplot[fill=gray!40, draw=none] coordinates {(8150,0) (8540,0) (8540,6.5) (8150,6.5)};
\node[font=\fontsize{16}{18}\selectfont, anchor=base west, inner sep=0pt] at (axis cs:45,9) {5’ LTR};
\node[font=\fontsize{16}{18}\selectfont, anchor=base, inner sep=0pt] at (axis cs:2869,11) {gag};
\node[font=\fontsize{16}{18}\selectfont, anchor=base, inner sep=0pt] at (axis cs:6399,13) {pol};
\node[font=\fontsize{16}{18}\selectfont, anchor=base, inner sep=0pt] at (axis cs:6890,9) {env};
\node[font=\fontsize{16}{18}\selectfont, anchor=base, inner sep=0pt] at (axis cs:8338,9) {3’ LTR};
\end{axis}

% y-axis labels
\node[rotate=90, font=\fontsize{16.4}{19}\selectfont] at (19pt,-223pt) {coverage (single-copy genes)};
\node[rotate=90, font=\fontsize{19.5}{22}\selectfont] at (19pt,-568pt) {coverage (single-copy genes)};
\node[rotate=90, font=\fontsize{19.5}{22}\selectfont] at (19pt,-879pt) {coverage (single-copy genes)};
\end{tikzpicture}
\end{document}
